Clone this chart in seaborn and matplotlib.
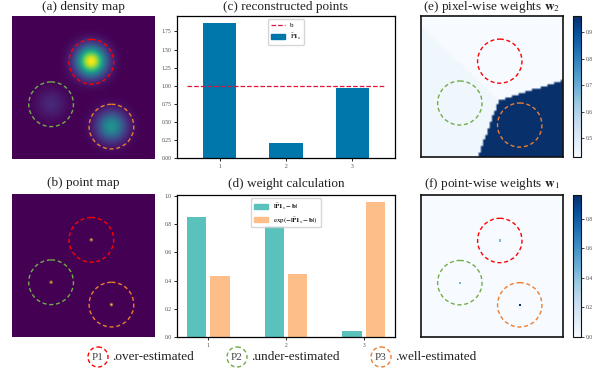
import numpy as np
import pandas as pd
import matplotlib
matplotlib.use("Agg")
import matplotlib.pyplot as plt
from matplotlib.patches import Circle, Patch
from matplotlib.lines import Line2D
from matplotlib.ticker import MultipleLocator
import seaborn as sns

# --- data ---------------------------------------------------------------
grid = 64                       # map size (pixels)
pt_cols = [35, 17, 44]          # P1, P2, P3 column on the map
pt_rows = [20, 39, 49]          # P1, P2, P3 row on the map
region_bias = [0, 0, 100]       # shifts the pixel-region borders a little
blob_sigma = 4.5                # spread of each blob in the density map
circle_r = 10

point_ticks = ["1", "2", "3"]
counts = [1.87, 0.21, 0.97]     # reconstructed points  P~1_s
target = 1.0                    # b
abs_err = [0.85, 0.79, 0.04]    # |P~1_s - b|
weights = [0.43, 0.45, 0.96]    # exp(-|P~1_s - b|)

legend_tags = ["P1", "P2", "P3"]
legend_text = [".over-estimated", ".under-estimated", ".well-estimated"]

circle_colors = ["red", "#70ad47", "#ed7d31"]
bar_blue = "#0077aa"
teal = "#5bc1bd"
peach = "#fdbe8a"

plt.rcParams["font.family"] = ["Liberation Serif", "DejaVu Serif"]
plt.rcParams["mathtext.fontset"] = "stix"

# --- maps ---------------------------------------------------------------
yy, xx = np.mgrid[0:grid, 0:grid]
density = np.zeros((grid, grid))
point_map = np.zeros((grid, grid))
w1_map = np.zeros((grid, grid))
dists = []
for c, r, n, w, bias in zip(pt_cols, pt_rows, counts, weights, region_bias):
    d2 = (xx - c) ** 2 + (yy - r) ** 2
    density += n * np.exp(-d2 / (2 * blob_sigma ** 2))
    point_map[r, c] = 1
    w1_map[r, c] = w
    dists.append(d2 + bias)
w2_map = np.array(weights)[np.argmin(dists, axis=0)]

W, H = 597, 370
fig = plt.figure(figsize=(W / 100, H / 100), dpi=100)


def box(x0, y0, x1, y1):
    return fig.add_axes([x0 / W, 1 - y1 / H, (x1 - x0) / W, (y1 - y0) / H])


ax_a = box(12, 16, 155, 159)
ax_b = box(12, 194, 155, 337)
ax_c = box(177, 16, 395, 158)
ax_d = box(177, 195, 395, 337)
ax_e = box(421, 16, 563, 157)
ax_f = box(421, 195, 563, 337)
cax_e = box(573, 16, 581, 157)
cax_f = box(573, 195, 581, 337)

title_kw = dict(fontsize=9.5, color="#222222")


def show_map(ax, img, cmap, vmin=None, vmax=None, interp="bilinear"):
    im = ax.imshow(img, cmap=cmap, vmin=vmin, vmax=vmax, aspect="auto",
                   interpolation=interp, extent=(0, grid, grid, 0))
    for c, r, col in zip(pt_cols, pt_rows, circle_colors):
        ax.add_patch(Circle((c + 0.5, r + 0.5), circle_r, fill=False, ec=col,
                            lw=1.0, ls=(0, (2.9, 2.0))))
    ax.set_xticks([])
    ax.set_yticks([])
    return im


# (a) density map
show_map(ax_a, density, "viridis")
ax_a.axis("off")
ax_a.set_title("(a) density map", pad=4.5, **title_kw)

# (b) point map
show_map(ax_b, point_map, "viridis")
ax_b.axis("off")
ax_b.set_title("(b) point map", pad=5.5, **title_kw)

# (c) reconstructed points
df_c = pd.DataFrame({"point": point_ticks, "value": counts})
sns.barplot(data=df_c, x="point", y="value", color=bar_blue, width=0.5,
            saturation=1, ax=ax_c)
ax_c.plot([-0.5, len(counts) - 0.5], [target, target], ls="--",
          color="crimson", lw=0.9)
ax_c.set_xlim(-0.65, len(counts) - 0.35)
ax_c.yaxis.set_major_locator(MultipleLocator(0.25))
ax_c.yaxis.set_major_formatter("{x:.2f}")
ax_c.legend(handles=[Line2D([], [], ls="--", color="crimson", lw=0.9),
                     Patch(color=bar_blue)],
            labels=["b", r"$\tilde{\mathrm{P}}\mathbf{1}_s$"],
            loc="upper center", fontsize=5)
ax_c.set_title("(c) reconstructed points", pad=4.5, **title_kw)

# (d) weight calculation
lab_err = r"$|\tilde{\mathbf{P}}\mathbf{1}_s-\mathbf{b}|$"
lab_w = r"$\exp(-|\tilde{\mathbf{P}}\mathbf{1}_s-\mathbf{b}|)$"
df_d = pd.DataFrame({
    "point": point_ticks * 2,
    "metric": ["err"] * 3 + ["w"] * 3,
    "value": abs_err + weights,
})
sns.barplot(data=df_d, x="point", y="value", hue="metric",
            palette=[teal, peach], width=0.6, gap=1 / 6, saturation=1,
            legend=False, ax=ax_d)
ax_d.set_xlim(-0.4, len(counts) - 0.6)
ax_d.yaxis.set_major_locator(MultipleLocator(0.2))
ax_d.yaxis.set_major_formatter("{x:.1f}")
ax_d.legend(handles=[Patch(color=teal), Patch(color=peach)],
            labels=[lab_err, lab_w], loc="upper center", fontsize=5)
ax_d.set_title("(d) weight calculation", pad=5.5, **title_kw)

for ax in (ax_c, ax_d):
    ax.set_xlabel("")
    ax.set_ylabel("")
    ax.tick_params(labelsize=4, length=2.5, width=0.6, pad=1.5,
                   labelcolor="#444444")
    for s in ax.spines.values():
        s.set_linewidth(0.9)

# (e) pixel-wise weights
im_e = show_map(ax_e, w2_map, "Blues", min(weights), max(weights))
ax_e.set_title(r"(e) pixel-wise weights $\mathbf{w}_2$", pad=4.5, **title_kw)

# (f) point-wise weights
im_f = show_map(ax_f, w1_map, "Blues", 0, max(weights), interp="nearest")
ax_f.set_title(r"(f) point-wise weights $\mathbf{w}_1$", pad=5.5, **title_kw)

for ax, im, cax, step in ((ax_e, im_e, cax_e, 0.1), (ax_f, im_f, cax_f, 0.2)):
    for s in ax.spines.values():
        s.set_linewidth(1.2)
        s.set_color("#111111")
    cb = fig.colorbar(im, cax=cax)
    cb.outline.set_linewidth(0.8)
    cb.outline.set_edgecolor("#111111")
    cax.yaxis.set_major_locator(MultipleLocator(step))
    cax.yaxis.set_major_formatter("{x:.1f}")
    cax.tick_params(labelsize=4, length=2, width=0.5, pad=1.5,
                    labelcolor="#444444")

# bottom legend row
ax_l = fig.add_axes([0, 0, 1, 40 / H])
ax_l.set_xlim(0, W)
ax_l.set_ylim(40, 0)
ax_l.axis("off")
for cx, tag, txt, col in zip([98, 237, 381], legend_tags, legend_text,
                             circle_colors):
    ax_l.add_patch(Circle((cx, 27), 10, fill=False, ec=col, lw=1.0,
                          ls=(0, (2.9, 2.0))))
    ax_l.text(cx, 27, tag, ha="center", va="center", fontsize=8,
              color="#444444")
    ax_l.text(cx + 14.5, 27, txt, ha="left", va="center", fontsize=9.5,
              color="#222222")

fig.savefig("out.png", dpi=100)
